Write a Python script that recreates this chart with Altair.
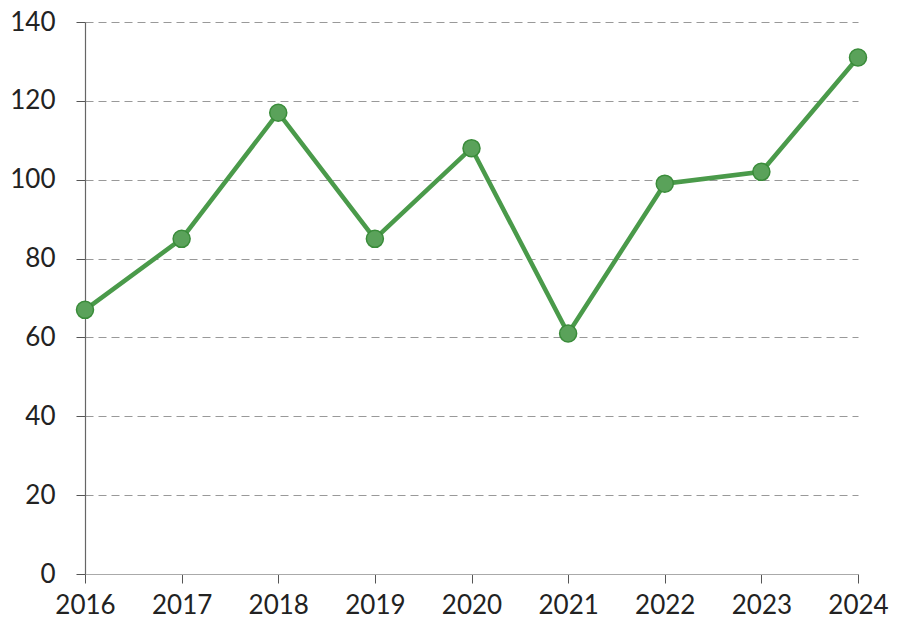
import altair as alt
import pandas as pd

years = [2016, 2017, 2018, 2019, 2020, 2021, 2022, 2023, 2024]
values = [67, 85, 117, 85, 108, 61, 99, 102, 131]

df = pd.DataFrame({"year": years, "value": values})

x = alt.X("year:Q", scale=alt.Scale(domain=[2016, 2024], nice=False, zero=False),
          axis=alt.Axis(values=years, format="d", title=None, grid=False,
                        domainColor="#aaaaaa", domainWidth=1.2,
                        tickColor="#555555", tickSize=9, tickWidth=1,
                        labelFontSize=26, labelFont="Lato", labelColor="#222222",
                        labelPadding=9, labelFlush=False))
y = alt.Y("value:Q", scale=alt.Scale(domain=[0, 140], nice=False),
          axis=alt.Axis(values=[0, 20, 40, 60, 80, 100, 120, 140], title=None,
                        grid=True, gridColor="#999999", gridDash=[8, 5], gridWidth=1.2,
                        domainColor="#666666", domainWidth=1.2,
                        tickColor="#555555", tickSize=9, tickWidth=1,
                        labelFontSize=26, labelFont="Lato", labelColor="#222222",
                        labelPadding=21))

base = alt.Chart(df)
line = base.mark_line(color="#4a9a4a", strokeWidth=4.5).encode(x=x, y=y)
pts = base.mark_point(filled=True, size=290, fill="#5aa25a", stroke="#3a8c3a",
                      strokeWidth=1.5, opacity=1).encode(x=x, y=y)

chart = (line + pts).properties(
    width=773, height=552,
    autosize=alt.AutoSizeParams(type="none"),
    padding={"left": 77, "top": 14, "right": 34, "bottom": 50},
).configure_view(stroke=None)

chart.save("out.html", embed_options={"renderer": "svg", "actions": False})
